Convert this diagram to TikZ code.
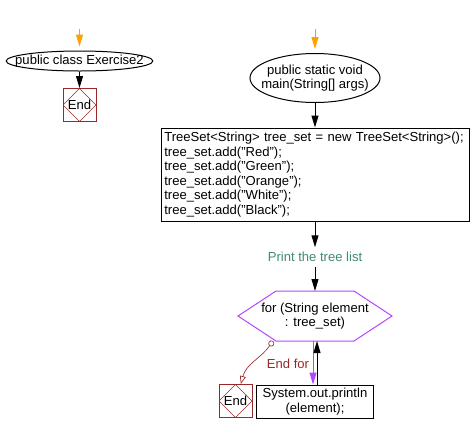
\documentclass[tikz,border=0pt]{standalone}
\usepackage{fontspec}
\setmainfont{Liberation Sans}
\usetikzlibrary{shapes.geometric, arrows.meta}
\definecolor{startorange}{RGB}{255,160,0}
\definecolor{endred}{RGB}{153,40,40}
\definecolor{notegreen}{RGB}{64,140,110}
\definecolor{looppurple}{RGB}{180,70,255}
\tikzset{
	x=0.75pt, y=0.75pt,
	every node/.style={font=\fontsize{9.8}{10.9}\selectfont, line width=0.75pt},
	terminal/.style={ellipse, draw, inner sep=0pt},
	process/.style={rectangle, draw, inner sep=2.25pt},
	endbox/.style={rectangle, draw=endred, minimum size=24.75pt, inner sep=0pt,
		path picture={\draw[endred, line width=0.5pt] (path picture bounding box.north) -- (path picture bounding box.east) -- (path picture bounding box.south) -- (path picture bounding box.west) -- cycle;}},
	flow/.style={draw, line width=0.75pt, -{Triangle[length=9pt,width=5.25pt]}}
}

\begin{document}
\begin{tikzpicture}
\useasboundingbox (0,0) rectangle (472,-433);

% class
\coordinate (inL) at (79.5,-29);
\node[terminal, minimum width=110pt, minimum height=15pt, label=center:{public class Exercise2}] (mainL) at (79.5,-61) {};
\node[endbox] (endL) at (79.5,-105) {End};
\draw[flow, startorange, shorten >=3pt] (inL) -- (mainL);
\draw[flow] (mainL) -- (endL);

% main
\coordinate (inR) at (315,-29);
\node[terminal, minimum width=97.5pt, minimum height=36.75pt, label={[align=center]center:{public static void\\main(String[] args)}}] (mainR) at (315,-78) {};
\node[process, minimum width=231pt, minimum height=69.75pt, text width=226pt, align=left] (code) at (315,-174.5) {TreeSet<String> tree\_set = new TreeSet<String>();\\
tree\_set.add("Red");\\
tree\_set.add("Green");\\
tree\_set.add("Orange");\\
tree\_set.add("White");\\
tree\_set.add("Black");};
\node[text=notegreen] (note) at (315,-257) {Print the tree list};
\node[minimum width=114.75pt, minimum height=36.75pt, inner sep=0pt, align=center] (loop) at (315,-316) {for (String element\\: tree\_set)};
\draw[looppurple, line width=0.75pt] (loop.west) -- ([xshift=28.5pt]loop.north west) -- ([xshift=-28.5pt]loop.north east) -- (loop.east) -- ([xshift=-28.5pt]loop.south east) -- ([xshift=28.5pt]loop.south west) -- cycle;
\node[process, minimum width=87.75pt, minimum height=24.75pt, align=center] (body) at (315,-401.5) {System.out.println\\(element);};
\node[endbox] (endR) at (235.5,-401) {End};
\node[text=endred] (endfor) at (288,-364) {End for};

\draw[flow, startorange, shorten >=3pt] (inR) -- (mainR);
\draw[flow] (mainR) -- (code);
\draw[flow] (code) -- (note);
\draw[flow] (note) -- (loop);
\draw[flow, looppurple] ([xshift=-1.5pt]loop.south) -- ([xshift=-1.5pt]body.north);
\draw[flow] ([xshift=1.5pt]body.north) -- ([xshift=1.5pt]loop.south);
\coordinate (exitpt) at (273,-341);
\draw[endred, line width=0.5pt, {Circle[open,length=4.5pt]}-{Triangle[open,length=6pt,width=4.5pt]}] (exitpt) to[out=235,in=75] ([xshift=4pt]endR.north);
\end{tikzpicture}
\end{document}
